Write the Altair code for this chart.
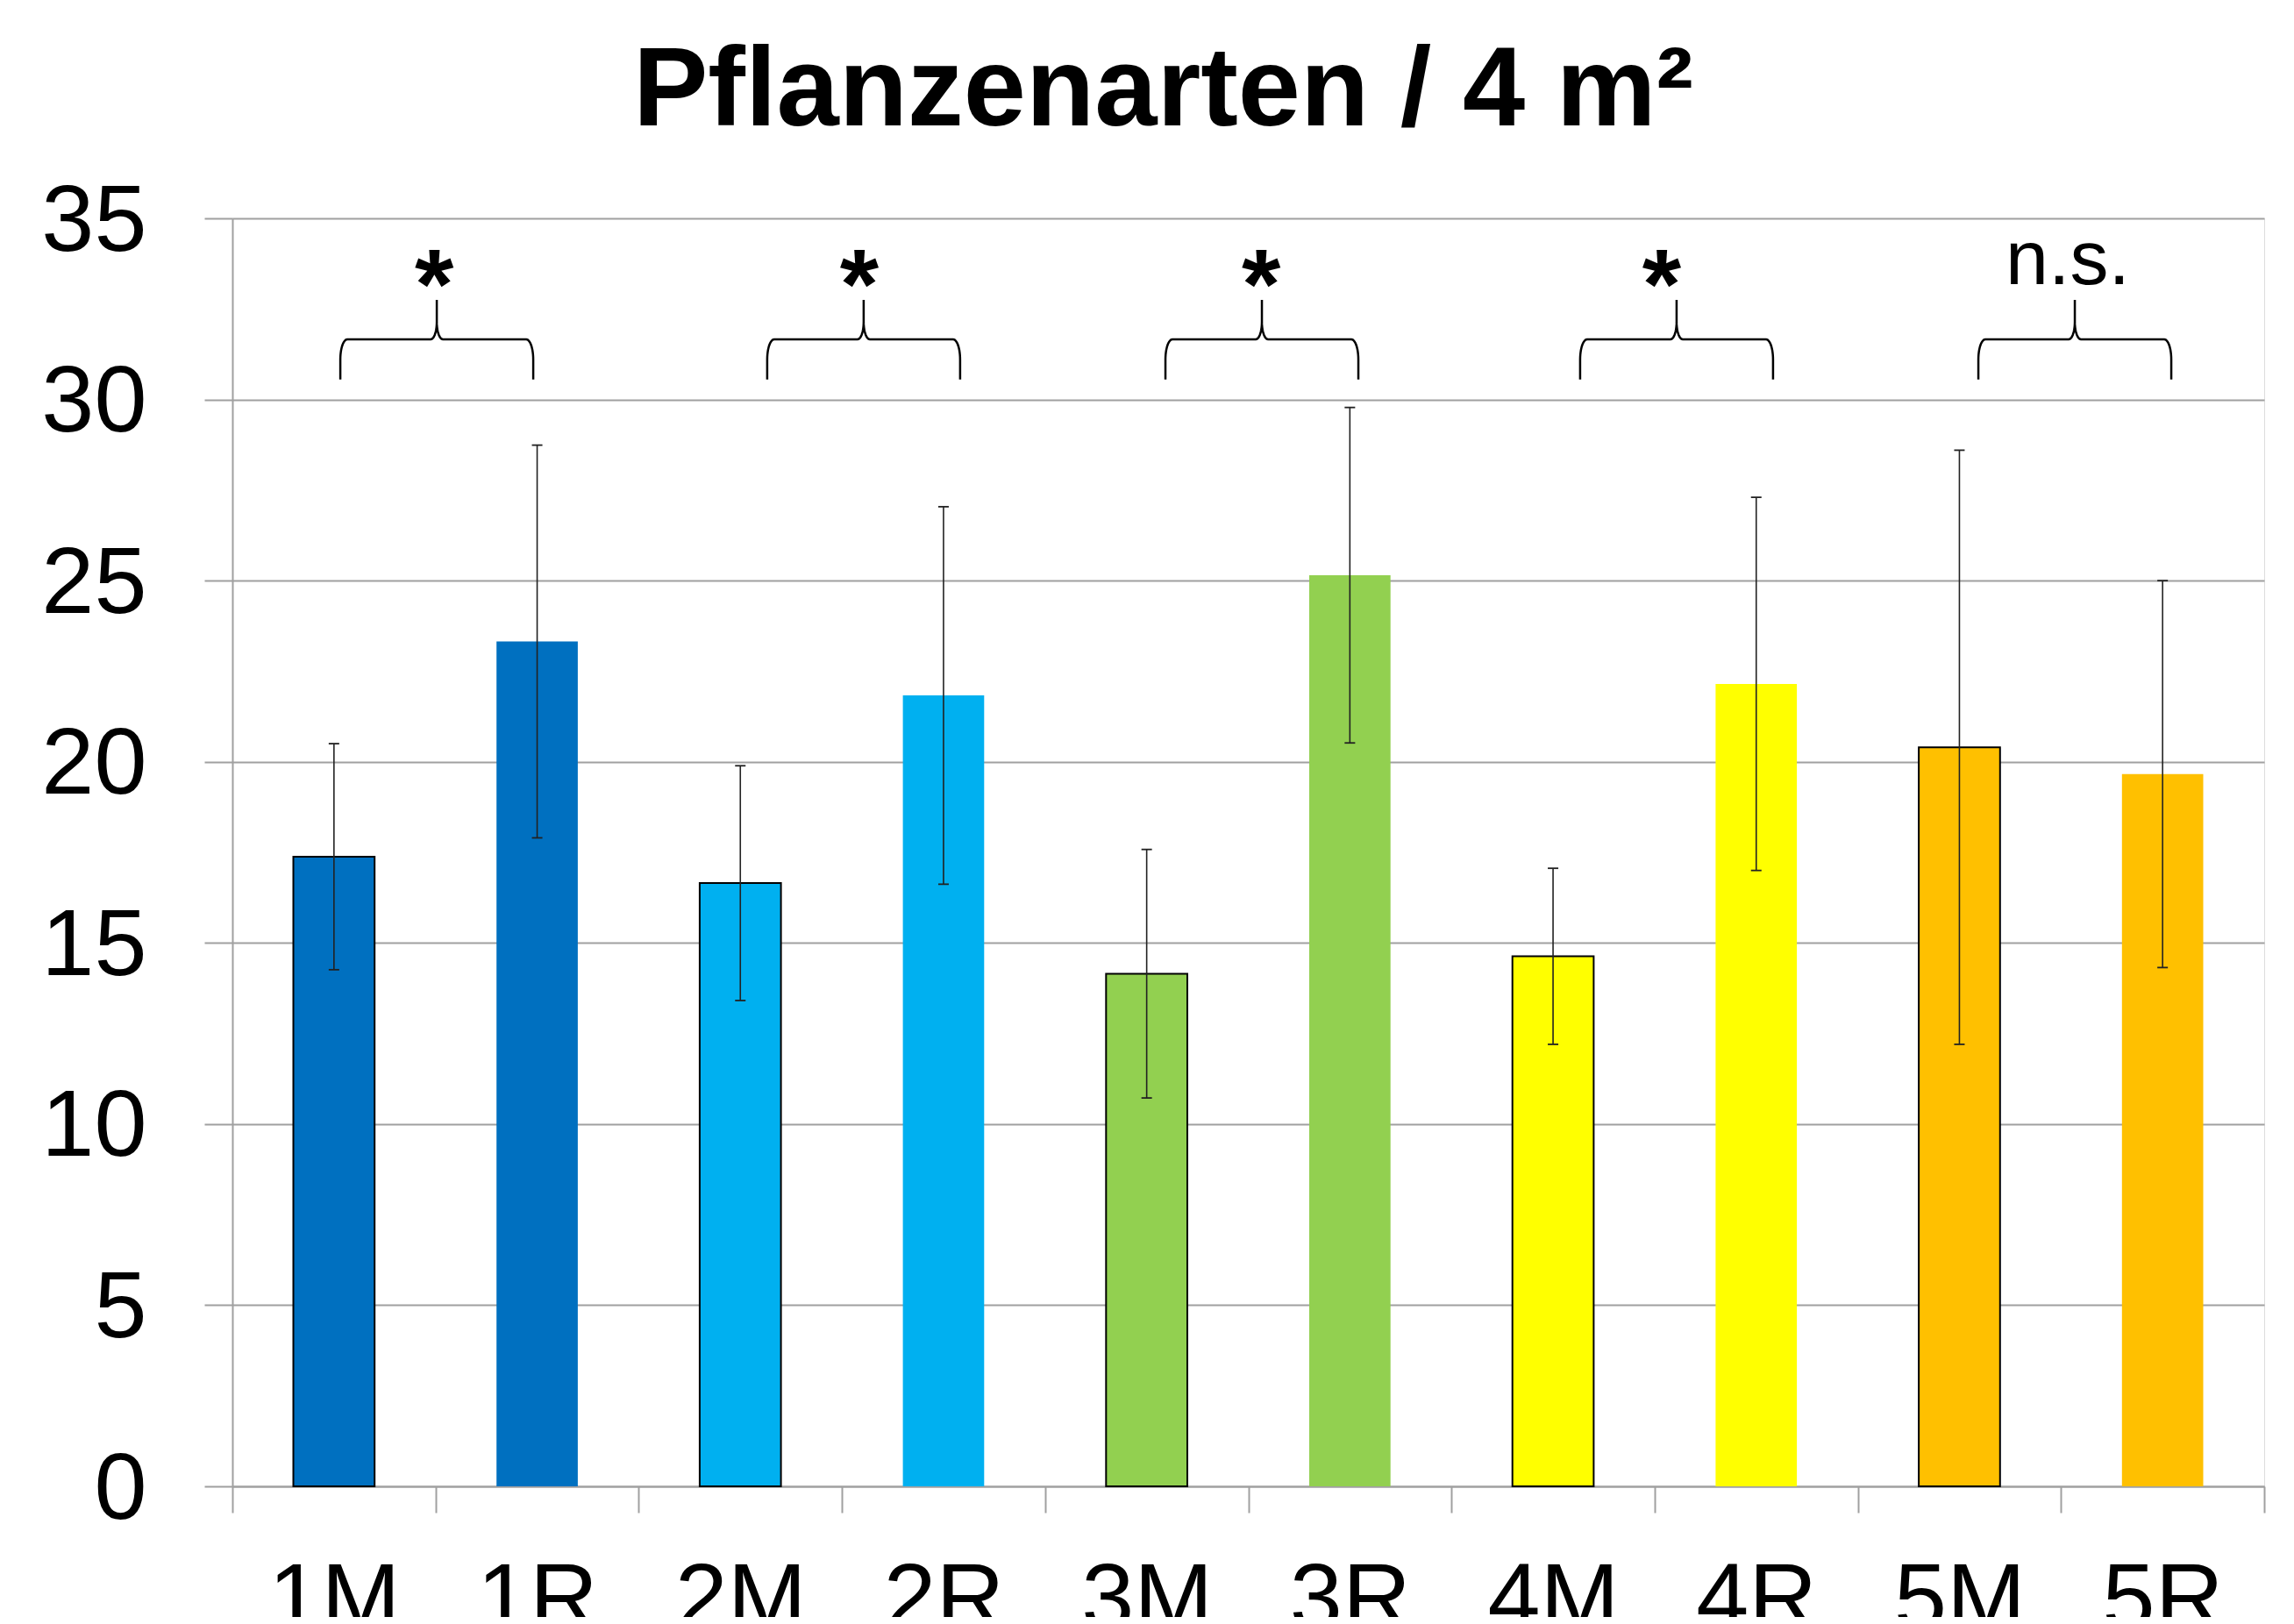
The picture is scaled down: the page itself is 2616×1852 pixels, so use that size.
import json
import numpy as np
import pandas as pd
import altair as alt

# ---------------- data ----------------
categories = ["1M", "1R", "2M", "2R", "3M", "3R", "4M", "4R", "5M", "5R"]
means = [17.38, 23.32, 16.65, 21.83, 14.15, 25.15, 14.63, 22.15, 20.40, 19.66]
sds = [3.12, 5.42, 3.24, 5.21, 3.43, 4.63, 2.43, 5.15, 8.20, 5.34]
bar_colors = ["#0070C0", "#0070C0", "#00B0F0", "#00B0F0", "#92D050",
              "#92D050", "#FFFF00", "#FFFF00", "#FFC000", "#FFC000"]
outlined = [True, False, True, False, True, False, True, False, True, False]

brace_centers = [1.006, 3.107, 5.067, 7.108, 9.068]
sig_labels = ["*", "*", "*", "*", "n.s."]
sig_label_x = [0.993, 3.086, 5.063, 7.035, 9.033]
sig_label_y = [32.23, 32.23, 32.23, 32.23, 33.19]
brace_bottom, brace_top, brace_peak = 30.55, 31.66, 32.75

y_ticks = [0, 5, 10, 15, 20, 25, 30, 35]
title_text = "Pflanzenarten / 4 m²"

# ---------------- layout / style ----------------
W, H = 2317, 1446
Y_MAX = 35
FONT = "Liberation Sans"
N = len(categories)
px_x = W / N          # pixels per category unit
px_y = H / Y_MAX      # pixels per y unit
BAR_FRAC = 0.4
CAP_PX = 6
GRID = "#A0A0A0"

# ---------------- tables ----------------
bars = pd.DataFrame({
    "cat": categories,
    "mean": means,
    "sd": sds,
    "color": bar_colors,
    "sw": [2 if o else 0 for o in outlined],
})
bars["xc"] = np.arange(N) + 0.5
bars["x0"] = bars["xc"] - BAR_FRAC / 2
bars["x1"] = bars["xc"] + BAR_FRAC / 2
bars["lo"] = bars["mean"] - bars["sd"]
bars["hi"] = bars["mean"] + bars["sd"]
bars["c0"] = bars["xc"] - CAP_PX / px_x
bars["c1"] = bars["xc"] + CAP_PX / px_x
bars["zero"] = 0.0

caps = pd.concat([
    bars[["c0", "c1"]].assign(yv=bars["hi"]),
    bars[["c0", "c1"]].assign(yv=bars["lo"]),
])


def brace_points(c, hw, yb, yt, yp, n=14):
    rx, ry = 8 / px_x, 23 / px_y
    rx2, ry2 = 7 / px_x, 20 / px_y
    x0 = c - hw
    pts = [(x0, yb)]
    for t in np.linspace(0, np.pi / 2, n):
        pts.append((x0 + rx - rx * np.cos(t), yt - ry + ry * np.sin(t)))
    for t in np.linspace(0, np.pi / 2, n):
        pts.append((c - rx2 + rx2 * np.sin(t), yt + ry2 * (1 - np.cos(t))))
    pts.append((c, yp))
    right = [(2 * c - x, y) for (x, y) in reversed(pts)]
    return pts + right


rows = []
for g, c in enumerate(brace_centers):
    for k, (x, y) in enumerate(brace_points(c, 110 / px_x, brace_bottom, brace_top, brace_peak)):
        rows.append({"g": g, "k": k, "bx": x, "by": y})
braces = pd.DataFrame(rows)

sig = pd.DataFrame({"lab": sig_labels, "sx": sig_label_x, "sy": sig_label_y})
sig["star"] = sig["lab"] == "*"

# ---------------- scales / axes ----------------
label_expr = "datum.value < %d ? %s[datum.value] : ''" % (N, json.dumps(categories))

x_scale = alt.Scale(domain=[0, N], nice=False, zero=False)
y_scale = alt.Scale(domain=[0, Y_MAX], nice=False)

x_axis = alt.Axis(
    values=list(range(N + 1)), labelExpr=label_expr, labelOffset=px_x / 2,
    tickSize=30, tickColor=GRID, tickWidth=2, domainColor=GRID, domainWidth=2,
    grid=False, labelFont=FONT, labelFontSize=108, labelColor="black",
    labelPadding=47, labelFlush=False, labelOverlap=False, labelBound=False,
    title=None,
)
y_axis = alt.Axis(
    values=y_ticks, tickSize=32, tickColor=GRID, tickWidth=2,
    domainColor=GRID, domainWidth=2, grid=True, gridColor=GRID, gridWidth=2,
    labelFont=FONT, labelFontSize=108, labelColor="black", labelPadding=66,
    labelOffset=4, title=None,
)

base = alt.Chart(bars)

bar_layer = base.mark_bar(stroke="black").encode(
    x=alt.X("x0:Q", scale=x_scale, axis=x_axis),
    x2="x1:Q",
    y=alt.Y("mean:Q", scale=y_scale, axis=y_axis),
    y2="zero:Q",
    color=alt.Color("color:N", scale=None),
    strokeWidth=alt.StrokeWidth("sw:Q", scale=None),
)

err_layer = base.mark_rule(color="#222222", strokeWidth=1.6).encode(
    x="xc:Q", y="lo:Q", y2="hi:Q",
)

cap_layer = alt.Chart(caps).mark_rule(color="#222222", strokeWidth=1.8).encode(
    x="c0:Q", x2="c1:Q", y="yv:Q",
)

brace_layer = alt.Chart(braces).mark_line(color="black", strokeWidth=2.5).encode(
    x="bx:Q", y="by:Q", detail="g:N", order="k:Q",
)

star_layer = alt.Chart(sig).transform_filter("datum.star").mark_text(
    font=FONT, fontSize=114, fontWeight="bold", align="center",
    baseline="alphabetic", color="black",
).encode(x="sx:Q", y="sy:Q", text="lab:N")

ns_layer = alt.Chart(sig).transform_filter("!datum.star").mark_text(
    font=FONT, fontSize=88, align="center", baseline="alphabetic", color="black",
).encode(x="sx:Q", y="sy:Q", text="lab:N")

chart = alt.layer(
    bar_layer, err_layer, cap_layer, brace_layer, star_layer, ns_layer
).properties(
    width=W, height=H,
    title=alt.TitleParams(
        title_text, font=FONT, fontSize=128, fontWeight="bold", color="black",
        anchor="middle", frame="group", dx=-97, baseline="alphabetic", offset=-72,
    ),
    autosize=alt.AutoSizeParams(type="none"),
    padding={"left": 257, "top": 241, "right": 10, "bottom": 149},
).configure_view(stroke=None).configure(background="white")

chart.save("out.html", embed_options={"renderer": "svg", "actions": False})
